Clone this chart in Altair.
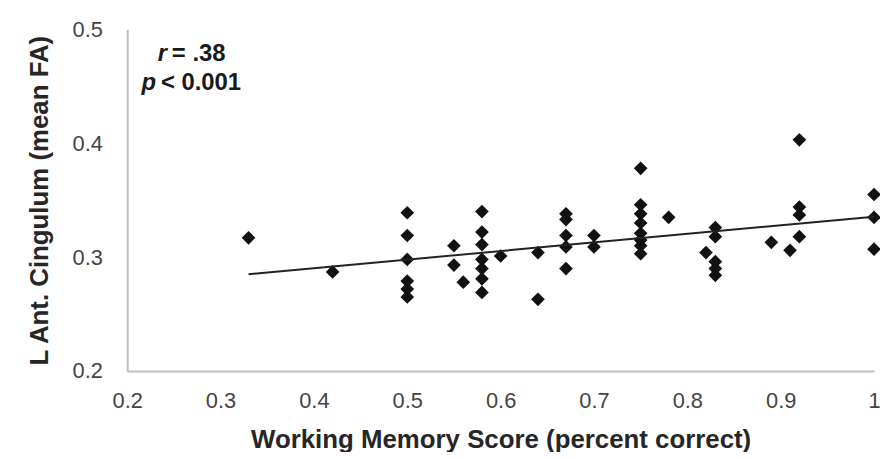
import altair as alt
import pandas as pd

# Working memory score (x) and L Ant. Cingulum mean FA (y)
wm_score = [0.33, 0.42,
            0.50, 0.50, 0.50, 0.50, 0.50, 0.50,
            0.55, 0.55, 0.56,
            0.58, 0.58, 0.58, 0.58, 0.58, 0.58, 0.58,
            0.60, 0.64, 0.64,
            0.67, 0.67, 0.67, 0.67, 0.67,
            0.70, 0.70,
            0.75, 0.75, 0.75, 0.75, 0.75, 0.75, 0.75, 0.75,
            0.78, 0.82,
            0.83, 0.83, 0.83, 0.83, 0.83,
            0.89, 0.91,
            0.92, 0.92, 0.92, 0.92,
            1.00, 1.00, 1.00]
mean_fa = [0.317, 0.287,
           0.339, 0.319, 0.298, 0.279, 0.272, 0.265,
           0.310, 0.293, 0.278,
           0.340, 0.322, 0.311, 0.298, 0.290, 0.281, 0.269,
           0.301, 0.304, 0.263,
           0.338, 0.333, 0.319, 0.309, 0.290,
           0.319, 0.309,
           0.378, 0.346, 0.338, 0.330, 0.321, 0.315, 0.310, 0.303,
           0.335, 0.304,
           0.326, 0.318, 0.296, 0.290, 0.284,
           0.313, 0.306,
           0.403, 0.344, 0.337, 0.318,
           0.355, 0.335, 0.307]

x_ticks = [0.2, 0.3, 0.4, 0.5, 0.6, 0.7, 0.8, 0.9, 1.0]
y_ticks = [0.2, 0.3, 0.4, 0.5]

df = pd.DataFrame({"wm": wm_score, "fa": mean_fa})

FONT = "Liberation Sans"

x_enc = alt.X("wm:Q", scale=alt.Scale(domain=[0.2, 1.0], nice=False, zero=False),
              axis=alt.Axis(values=x_ticks, title="Working Memory Score (percent correct)",
                            labelExpr="datum.value == 1 ? '1' : format(datum.value, '.1f')",
                            grid=False, ticks=False, domainColor="#bfbfbf", domainWidth=2,
                            labelFlush=False, labelOverlap=False,
                            labelFont=FONT, labelFontSize=22, labelColor="#444444",
                            labelPadding=20, titleFont=FONT, titleFontSize=26,
                            titleFontWeight="bold", titleColor="#262626", titlePadding=15))
y_enc = alt.Y("fa:Q", scale=alt.Scale(domain=[0.2, 0.5], nice=False, zero=False),
              axis=alt.Axis(values=y_ticks, title="L Ant. Cingulum (mean FA)", format=".1f",
                            grid=False, ticks=False, domainColor="#bfbfbf", domainWidth=2,
                            labelFlush=False, labelOverlap=False,
                            labelFont=FONT, labelFontSize=22, labelColor="#444444",
                            labelPadding=25, titleFont=FONT, titleFontSize=26,
                            titleFontWeight="bold", titleColor="#262626", titlePadding=20))

points = alt.Chart(df).mark_point(shape="diamond", filled=True, size=190,
                                  color="#111111", opacity=1).encode(x=x_enc, y=y_enc)

trend = alt.Chart(df).transform_regression(
    "wm", "fa", extent=[0.33, 1.0]
).mark_line(color="#222222", strokeWidth=2).encode(x="wm:Q", y="fa:Q")

def label(txt, x, y, align, style="normal"):
    return alt.Chart(pd.DataFrame({"t": [txt]})).mark_text(
        font=FONT, fontSize=24, fontWeight="bold", fontStyle=style, color="#1a1a1a",
        align=align, baseline="middle"
    ).encode(text="t:N", x=alt.value(x), y=alt.value(y))

annot = (label("r", 40, 25, "right", "italic") + label("= .38", 45, 25, "left")
         + label("p", 29, 54, "right", "italic") + label("< 0.001", 34, 54, "left"))

chart = (points + trend + annot).properties(
    width=752, height=344,
    autosize=alt.AutoSizeParams(type="none"),
    padding={"left": 120, "top": 20, "right": 6, "bottom": 80},
).configure_view(stroke=None)

chart.save("out.html", embed_options={"renderer": "svg", "actions": False})
